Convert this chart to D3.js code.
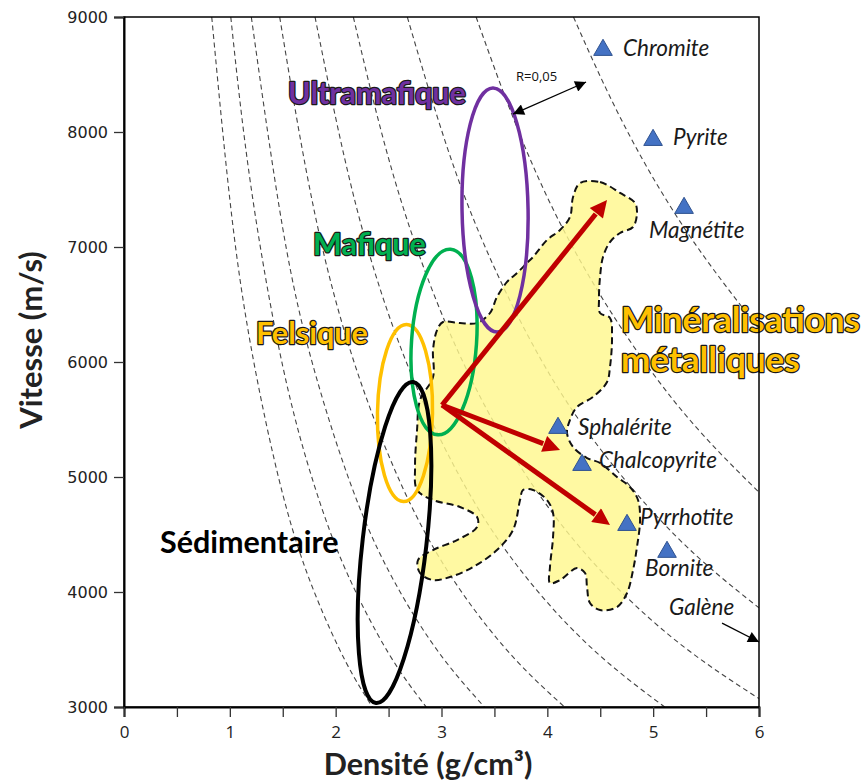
<!DOCTYPE html>
<html>
<head>
<meta charset="utf-8">
<script src="https://cdn.jsdelivr.net/npm/d3@7"></script>
<style>
  body { margin: 0; background: #fff; }
</style>
</head>
<body>
<div id="chart"></div>
<script>
// axis ticks
const xTicks = [0, 1, 2, 3, 4, 5, 6];
const xMinor = [0.5, 1.5, 2.5, 3.5, 4.5, 5.5];
const yTicks = [3000, 4000, 5000, 6000, 7000, 8000, 9000];

// dashed iso-impedance curves, [density, velocity]
const curve1 = [[0.829, 9000], [1.0, 7414], [1.2, 6132], [1.5, 4850], [1.8, 3995], [2.1, 3385], [2.347, 3000]];
const curve2 = [[1.009, 9000], [1.2, 7524], [1.5, 5963], [1.8, 4923], [2.1, 4180], [2.5, 3467], [2.856, 3000]];
const curve3 = [[1.203, 9000], [1.5, 7163], [1.8, 5923], [2.2, 4796], [2.6, 4015], [3.0, 3443], [3.405, 3000]];
const curve4 = [[1.471, 9000], [1.8, 7304], [2.2, 5926], [2.7, 4777], [3.2, 3987], [3.7, 3411], [4.163, 3000]];
const curve5 = [[1.805, 9000], [2.2, 7334], [2.7, 5925], [3.3, 4797], [3.9, 4016], [4.5, 3444], [5.109, 3000]];
const curve6 = [[2.167, 9000], [2.6, 7455], [3.2, 6005], [3.9, 4877], [4.6, 4093], [5.3, 3516], [6.0, 3073]];
const curve7 = [[2.677, 9000], [3.2, 7484], [3.8, 6258], [4.4, 5367], [5.2, 4499], [6.0, 3862]];
const curve8 = [[3.327, 9000], [3.8, 7845], [4.4, 6737], [5.2, 5658], [6.0, 4867]];
const curve9 = [[4.247, 9000], [4.7, 8106], [5.3, 7157], [6.0, 6289]];
const isoCurves = [curve1, curve2, curve3, curve4, curve5, curve6, curve7, curve8, curve9];

// outline of the metallic mineralisation field
const mineralField = [
  [4.309, 7556], [4.498, 7565], [4.687, 7470], [4.828, 7383], [4.847, 7296], [4.810, 7174],
  [4.687, 7122], [4.592, 7043], [4.526, 6913], [4.498, 6739], [4.488, 6539], [4.498, 6426],
  [4.592, 6383], [4.611, 6217], [4.592, 5956], [4.564, 5826], [4.432, 5696], [4.280, 5609],
  [4.214, 5496], [4.186, 5383], [4.243, 5261], [4.375, 5165], [4.498, 5122], [4.658, 5000],
  [4.781, 4913], [4.857, 4800], [4.876, 4626], [4.847, 4391], [4.810, 4191], [4.753, 3991],
  [4.658, 3869], [4.498, 3843], [4.403, 3904], [4.375, 4043], [4.356, 4165], [4.280, 4208],
  [4.120, 4104], [4.025, 4078], [4.025, 4217], [4.054, 4478], [4.054, 4687], [3.997, 4800],
  [3.865, 4887], [3.770, 4887], [3.742, 4800], [3.676, 4539], [3.524, 4365], [3.298, 4217],
  [3.080, 4130], [2.920, 4104], [2.797, 4165], [2.778, 4278], [2.920, 4365], [3.147, 4452],
  [3.336, 4565], [3.336, 4652], [3.175, 4739], [2.920, 4800], [2.769, 4887], [2.750, 5087],
  [2.769, 5409], [2.797, 5669], [2.920, 5869], [2.920, 6104], [2.958, 6278], [3.014, 6348],
  [3.175, 6339], [3.336, 6339], [3.458, 6426], [3.524, 6565], [3.619, 6696], [3.714, 6774],
  [3.808, 6861], [3.865, 6913], [3.997, 7061], [4.120, 7148], [4.214, 7261], [4.243, 7435]
];

// rock-type ellipses
const rockNames = ['Felsique', 'Mafique', 'Ultramafique', 'Sédimentaire'];
const rockCentreRho = [2.655, 3.024, 3.506, 2.556];
const rockCentreV = [5556, 6174, 7322, 4430];
const rockRadiusRho = [0.260, 0.307, 0.312, 0.302];
const rockRadiusV = [770, 809, 1061, 1405];
const rockTilt = [1, 4, -1, 6.6];
const rockLabelRho = [1.247, 1.786, 1.550, 0.340];
const rockLabelV = [6156, 6930, 8243, 4339];

// minerals
const mineralNames = ['Chromite', 'Pyrite', 'Magnétite', 'Sphalérite', 'Chalcopyrite', 'Pyrrhotite', 'Bornite'];
const mineralRho = [4.526, 4.999, 5.292, 4.101, 4.328, 4.753, 5.131];
const mineralV = [8713, 7930, 7339, 5426, 5104, 4582, 4348];

// trend arrows from the common origin
const arrowStart = [3.005, 5626];
const arrowEnds = [[4.564, 7409], [4.120, 5235], [4.592, 4582]];

// annotation arrows
const rArrow = [[3.676, 8156], [4.366, 8435]];
const galeneArrow = [[5.651, 3730], [6.0, 3565]];

const W = 863, H = 782;
const x = d3.scaleLinear().domain([0, 6]).range([124, 759]);
const y = d3.scaleLinear().domain([3000, 9000]).range([707, 17]);

const svg = d3.select('#chart').append('svg')
  .attr('width', W).attr('height', H)
  .style('font-family', 'Lato, "Open Sans", sans-serif');

const defs = svg.append('defs');
defs.append('clipPath').attr('id', 'plot')
  .append('rect').attr('x', x(0)).attr('y', y(9000))
  .attr('width', x(6) - x(0)).attr('height', y(3000) - y(9000));

function head(id, color, w, h) {
  defs.append('marker').attr('id', id)
    .attr('markerUnits', 'userSpaceOnUse')
    .attr('viewBox', '0 0 10 10')
    .attr('refX', 10).attr('refY', 5)
    .attr('markerWidth', w).attr('markerHeight', h)
    .attr('orient', 'auto-start-reverse')
    .append('path').attr('d', 'M0,0L10,5L0,10Z').attr('fill', color);
}
head('redHead', '#c00000', 20, 17);
head('blackHead', '#000', 14, 11);

const plot = svg.append('g').attr('clip-path', 'url(#plot)');

// iso curves
const line = d3.line().x(d => x(d[0])).y(d => y(d[1])).curve(d3.curveNatural);
plot.selectAll('path.iso').data(isoCurves).enter().append('path')
  .attr('class', 'iso')
  .attr('d', line)
  .attr('fill', 'none')
  .attr('stroke', '#444')
  .attr('stroke-width', 1.1)
  .attr('stroke-dasharray', '5,3.5');

// mineralisation field
plot.append('path')
  .datum(mineralField)
  .attr('d', d3.line().x(d => x(d[0])).y(d => y(d[1])).curve(d3.curveCatmullRomClosed))
  .attr('fill', '#fff88e')
  .attr('fill-opacity', 0.82)
  .attr('stroke', '#111')
  .attr('stroke-width', 2)
  .attr('stroke-dasharray', '7,4');

// rock ellipses
const rockColors = ['#ffc000', '#00b050', '#7030a0', '#000000'];
const rockStroke = [3.5, 3.5, 3.5, 4];
rockNames.forEach((name, i) => {
  const cx = x(rockCentreRho[i]), cy = y(rockCentreV[i]);
  plot.append('ellipse')
    .attr('cx', cx).attr('cy', cy)
    .attr('rx', x(rockCentreRho[i] + rockRadiusRho[i]) - cx)
    .attr('ry', cy - y(rockCentreV[i] + rockRadiusV[i]))
    .attr('transform', `rotate(${rockTilt[i]},${cx},${cy})`)
    .attr('fill', 'none')
    .attr('stroke', rockColors[i])
    .attr('stroke-width', rockStroke[i]);
});

// red trend arrows
const headLen = 18;
arrowEnds.forEach(e => {
  const x0 = x(arrowStart[0]), y0 = y(arrowStart[1]);
  const x1 = x(e[0]), y1 = y(e[1]);
  svg.append('line')
    .attr('x1', x0).attr('y1', y0).attr('x2', x1).attr('y2', y1)
    .attr('stroke', '#c00000').attr('stroke-width', 5)
    .attr('stroke-dasharray', `${Math.hypot(x1 - x0, y1 - y0) - headLen},1000`)
    .attr('marker-end', 'url(#redHead)');
});

// R=0,05 double arrow
svg.append('line')
  .attr('x1', x(rArrow[0][0])).attr('y1', y(rArrow[0][1]))
  .attr('x2', x(rArrow[1][0])).attr('y2', y(rArrow[1][1]))
  .attr('stroke', '#000').attr('stroke-width', 1.3)
  .attr('marker-start', 'url(#blackHead)')
  .attr('marker-end', 'url(#blackHead)');
svg.append('text')
  .attr('x', x(rArrow[0][0]) + 3).attr('y', 81)
  .attr('font-family', '"Open Sans", sans-serif')
  .attr('font-size', 13).attr('fill', '#111')
  .text('R=0,05');

// Galène arrow
svg.append('line')
  .attr('x1', x(galeneArrow[0][0])).attr('y1', y(galeneArrow[0][1]))
  .attr('x2', x(galeneArrow[1][0])).attr('y2', y(galeneArrow[1][1]))
  .attr('stroke', '#000').attr('stroke-width', 1.3)
  .attr('marker-end', 'url(#blackHead)');
svg.append('text')
  .attr('x', x(galeneArrow[0][0]) - 53).attr('y', 615)
  .attr('font-size', 22.5).attr('font-style', 'italic').attr('fill', '#1a1a1a')
  .text('Galène');

// minerals
const labelDx = [20, 20, -35, 20, 17, 13, -22];
const labelDy = [6, 5, 30, 7, 3, 0, 24];
const tri = d3.symbol().type(d3.symbolTriangle).size(150);
mineralNames.forEach((name, i) => {
  const px = x(mineralRho[i]), py = y(mineralV[i]);
  svg.append('path')
    .attr('d', tri)
    .attr('transform', `translate(${px},${py})`)
    .attr('fill', '#4472c4')
    .attr('stroke', '#2f528f')
    .attr('stroke-width', 1);
  svg.append('text')
    .attr('x', px + labelDx[i]).attr('y', py + labelDy[i])
    .attr('font-size', 22.5).attr('font-style', 'italic').attr('fill', '#1a1a1a')
    .text(name);
});

// group labels with outline
function outlined(txt, px, py, size, color) {
  svg.append('text')
    .attr('x', px).attr('y', py)
    .attr('font-size', size).attr('font-weight', 'bold')
    .attr('fill', color)
    .attr('stroke', '#1a1a1a').attr('stroke-width', 2.5)
    .attr('stroke-linejoin', 'round')
    .attr('paint-order', 'stroke')
    .text(txt);
}
rockNames.forEach((name, i) => {
  if (name === 'Sédimentaire') {
    svg.append('text')
      .attr('x', x(rockLabelRho[i])).attr('y', y(rockLabelV[i]))
      .attr('font-size', 30.5).attr('font-weight', 'bold').attr('fill', '#000')
      .text(name);
  } else {
    outlined(name, x(rockLabelRho[i]), y(rockLabelV[i]), 30.5, rockColors[i]);
  }
});
outlined('Minéralisations', x(4.696), y(6261), 35, '#ffc000');
outlined('métalliques', x(4.696), y(5913), 35, '#ffc000');

// frame
svg.append('rect')
  .attr('x', x(0)).attr('y', y(9000))
  .attr('width', x(6) - x(0)).attr('height', y(3000) - y(9000))
  .attr('fill', 'none').attr('stroke', '#000').attr('stroke-width', 1.5);

// axes
const yAxis = svg.append('g').attr('transform', `translate(${x(0)},0)`)
  .call(d3.axisLeft(y).tickValues(yTicks).tickSize(10).tickPadding(6).tickFormat(d3.format('d')));
yAxis.selectAll('text').attr('font-family', '"DejaVu Sans", sans-serif').attr('font-size', 16).attr('fill', '#222');

const xAxis = svg.append('g').attr('transform', `translate(0,${y(3000)})`)
  .call(d3.axisBottom(x).tickValues(xTicks).tickSize(10).tickPadding(9).tickFormat(d3.format('d')));
xAxis.selectAll('text').attr('font-family', '"Open Sans", sans-serif').attr('font-size', 17).attr('fill', '#222');
svg.append('g').attr('transform', `translate(0,${y(3000)})`)
  .call(d3.axisBottom(x).tickValues(xMinor).tickSize(10).tickFormat(''))
  .select('.domain').remove();

svg.selectAll('.domain').attr('stroke-width', 2);
svg.selectAll('.tick line').attr('stroke', '#333').attr('stroke-width', 1.3);

// axis titles
svg.append('text')
  .attr('x', 428).attr('y', 775)
  .attr('text-anchor', 'middle')
  .attr('font-size', 30.5).attr('font-weight', 'bold').attr('fill', '#222')
  .text('Densité (g/cm³)');
svg.append('text')
  .attr('transform', 'translate(42,340) rotate(-90)')
  .attr('text-anchor', 'middle')
  .attr('font-size', 31).attr('font-weight', 'bold').attr('fill', '#222')
  .text('Vitesse (m/s)');
</script>
</body>
</html>
